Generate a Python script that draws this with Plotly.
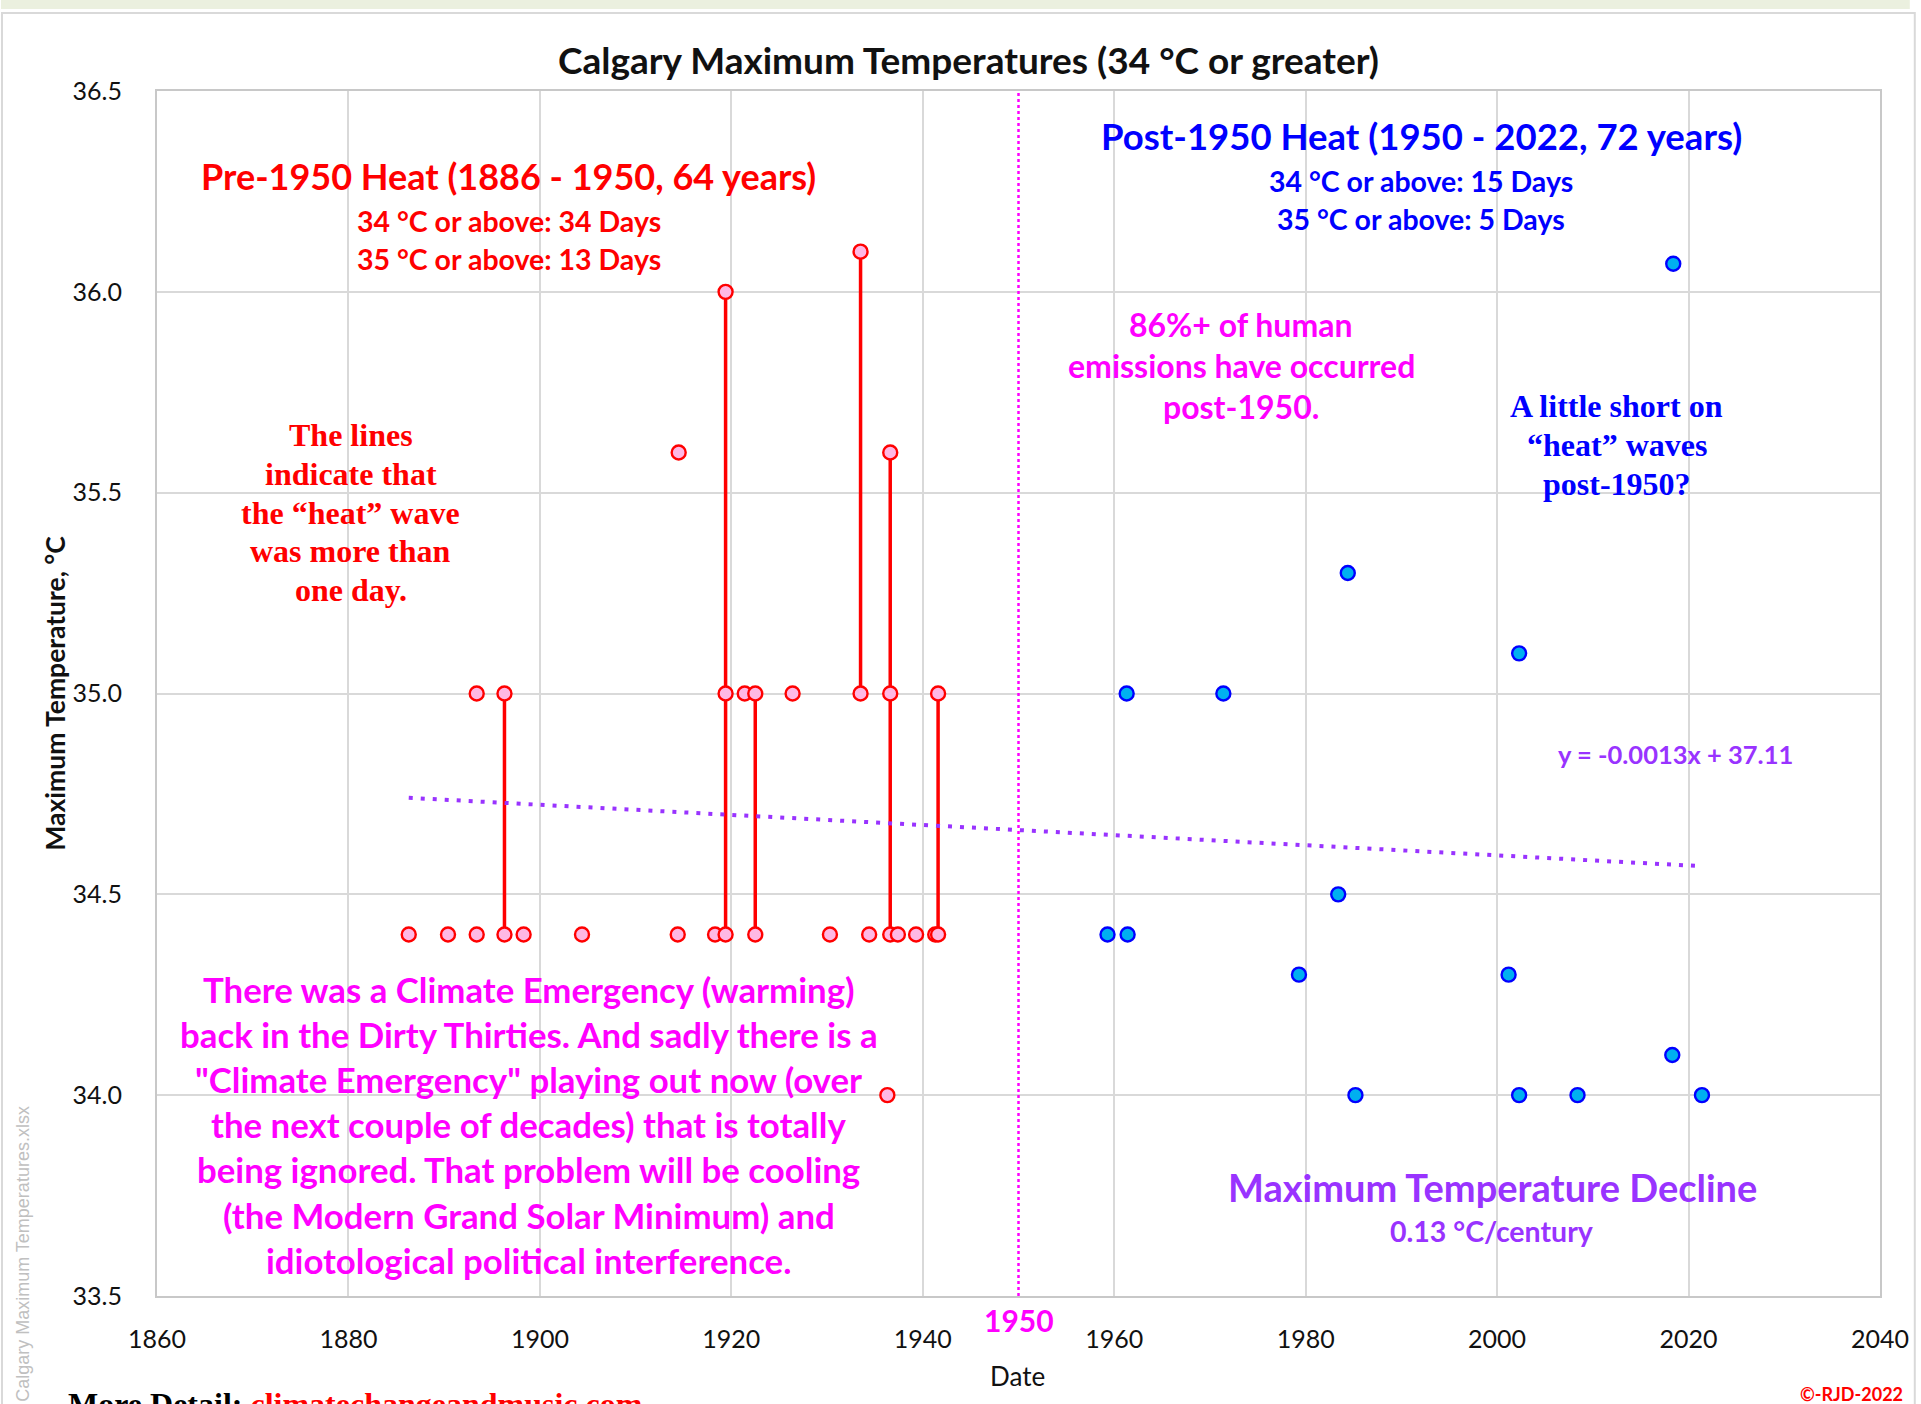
import plotly.graph_objects as go

# ---------------- data ----------------
pre_year = [1886.3, 1890.4, 1893.4, 1896.3, 1898.3, 1904.4, 1914.4, 1918.3, 1919.4, 1922.5,
            1930.3, 1934.4, 1936.6, 1937.4, 1939.3, 1941.3, 1941.6,
            1893.4, 1896.3, 1919.4, 1921.4, 1922.5, 1926.4, 1933.5, 1936.6, 1941.6,
            1914.5, 1936.6, 1919.4, 1933.5, 1936.3]
pre_temp = [34.4] * 17 + [35.0] * 9 + [35.6, 35.6, 36.0, 36.1, 34.0]

wave_year = [1896.3, 1919.4, 1922.5, 1933.5, 1936.6, 1941.6]
wave_low = [34.4, 34.4, 34.4, 35.0, 34.4, 34.4]
wave_high = [35.0, 36.0, 35.0, 36.1, 35.6, 35.0]

post_year = [1959.3, 1961.4, 1961.3, 1971.4, 1979.3, 1983.4, 1984.4, 1985.2,
             2001.2, 2002.3, 2002.3, 2008.4, 2018.4, 2018.3, 2021.4]
post_temp = [34.4, 34.4, 35.0, 35.0, 34.3, 34.5, 35.3, 34.0,
             34.3, 35.1, 34.0, 34.0, 36.07, 34.1, 34.0]

trend_slope = -0.00126
trend_intercept = 37.117

x_ticks = [1860, 1880, 1900, 1920, 1940, 1960, 1980, 2000, 2020, 2040]
y_ticks = [33.5, 34.0, 34.5, 35.0, 35.5, 36.0, 36.5]
divider_year = 1950

# ---------------- layout helpers ----------------
W, H = 1921, 1404
L, R, T, B = 157, 30, 91, 108
PW, PH = W - L - R, H - T - B


def px(xf, yf):
    return (xf - L) / PW, (H - B - yf) / PH


SANS = "Lato"
SERIF = "Liberation Serif"
RED = "#FF0000"
BLUE = "#0000FF"
MAG = "#FF00FF"
PURP = "#9933FF"

fig = go.Figure()

# heat-wave connecting lines
lx, ly = [], []
for yr, lo, hi in zip(wave_year, wave_low, wave_high):
    lx += [yr, yr, None]
    ly += [lo, hi, None]
fig.add_trace(go.Scatter(x=lx, y=ly, mode="lines", line=dict(color=RED, width=3.5),
                         hoverinfo="skip", showlegend=False))

# trend line
t0, t1 = min(pre_year + post_year), max(pre_year + post_year)
fig.add_trace(go.Scatter(x=[t0, t1],
                         y=[trend_slope * t0 + trend_intercept, trend_slope * t1 + trend_intercept],
                         mode="lines", line=dict(color=PURP, width=4, dash="4px,8px"),
                         showlegend=False))

fig.add_trace(go.Scatter(x=pre_year, y=pre_temp, mode="markers",
                         marker=dict(size=14, color="#FFB8E4", line=dict(color=RED, width=2.4)),
                         showlegend=False))
fig.add_trace(go.Scatter(x=post_year, y=post_temp, mode="markers",
                         marker=dict(size=14, color="#00B0F0", line=dict(color=BLUE, width=2.4)),
                         showlegend=False))

annotations = []


def txt(text, xf, yf, size, color, family=SANS, bold=True, xanchor="center", yanchor="middle", angle=0):
    x, y = px(xf, yf)
    t = f"<b>{text}</b>" if bold else text
    annotations.append(dict(text=t, x=x, y=y, xref="paper", yref="paper", showarrow=False,
                            xanchor=xanchor, yanchor=yanchor, textangle=angle,
                            font=dict(family=family, size=size, color=color)))


txt("Calgary Maximum Temperatures (34 °C or greater)", 974, 59, 37, "#111111")
txt("Pre-1950 Heat (1886 - 1950, 64 years)", 511, 176, 36, RED)
txt("34 °C or above: 34 Days", 511, 221, 28.5, RED)
txt("35 °C or above: 13 Days", 511, 259, 28.5, RED)
txt("Post-1950 Heat (1950 - 2022, 72 years)", 1430, 136, 36.5, BLUE)
txt("34 °C or above: 15 Days", 1429, 181, 28.5, BLUE)
txt("35 °C or above: 5 Days", 1429, 219, 28.5, BLUE)
for i, s in enumerate(["86%+ of human", "emissions have occurred", "post-1950."]):
    txt(s, 1248, 324 + i * 41.5, 32, MAG)
for i, s in enumerate(["The lines", "indicate that", "the \u201cheat\u201d wave", "was more than", "one day."]):
    txt(s, 352, 435 + i * 38.8, 32, RED, family=SERIF)
for i, s in enumerate(["A little short on", "\u201cheat\u201d waves", "post-1950?"]):
    txt(s, 1626, 406 + i * 39, 32, BLUE, family=SERIF)
big = ["There was a Climate Emergency (warming)",
       "back in the Dirty Thirties. And sadly there is a",
       "\"Climate Emergency\" playing out now (over",
       "the next couple of decades) that is totally",
       "being ignored. That problem will be cooling",
       "(the Modern Grand Solar Minimum) and",
       "idiotological political interference."]
for i, s in enumerate(big):
    txt(s, 531, 989 + i * 45.2, 34.8, MAG)
txt("Maximum Temperature Decline", 1501, 1187, 38, PURP)
txt("0.13 °C/century", 1501, 1231, 28.5, PURP)
txt("y = -0.0013x + 37.11", 1685, 754, 25.5, PURP)
txt("1950", 1024, 1320, 30, MAG)
txt("Date", 1023, 1376, 26, "#111111", bold=False)
txt("Maximum Temperature, °C", 54, 693, 26.5, "#111111", angle=-90)
txt("More Detail: <span style='color:#FF0000'>climatechangeandmusic.com</span>", 65, 1384, 32,
    "#000000", family=SERIF, xanchor="left", yanchor="top")
txt("\u00a9-RJD-2022", 1916, 1394, 18, RED, xanchor="right")
txt("Calgary Maximum Temperatures.xlsx", 22, 1254, 18, "#C0C0C0", family="Liberation Sans",
    bold=False, angle=-90)

shapes = []
# top band and outer border
x0, y0 = px(0, 0)
x1, y1 = px(W, 9)
shapes.append(dict(type="rect", xref="paper", yref="paper", x0=x0, x1=x1, y0=y0, y1=y1,
                   fillcolor="#EBF0DF", line=dict(width=0), layer="below"))
x0, y0 = px(1, 13)
x1, y1 = px(W + 5, H + 10)
shapes.append(dict(type="rect", xref="paper", yref="paper", x0=x0, x1=x1, y0=y0, y1=y1,
                   fillcolor="rgba(0,0,0,0)", line=dict(color="#D9D9D9", width=2), layer="below"))
# 1950 divider
shapes.append(dict(type="line", xref="x", yref="paper", x0=divider_year, x1=divider_year, y0=0, y1=1,
                   line=dict(color=MAG, width=2.5, dash="dot")))

fig.update_layout(
    width=W, height=H, autosize=False,
    margin=dict(l=L, r=R, t=T, b=B),
    paper_bgcolor="white", plot_bgcolor="white",
    annotations=annotations, shapes=shapes,
    font=dict(family=SANS),
)
fig.update_xaxes(range=[x_ticks[0], x_ticks[-1]], tickvals=x_ticks, ticktext=[str(v) for v in x_ticks],
                 showgrid=True, gridcolor="#D9D9D9", gridwidth=1.5, zeroline=False,
                 showline=True, linecolor="#C8C8C8", linewidth=2, mirror=True,
                 ticks="", ticklabelstandoff=20,
                 tickfont=dict(family=SANS, size=25, color="#111111"))
fig.update_yaxes(range=[y_ticks[0], y_ticks[-1]], tickvals=y_ticks, ticktext=[f"{v:.1f}" for v in y_ticks],
                 showgrid=True, gridcolor="#D9D9D9", gridwidth=1.5, zeroline=False,
                 showline=True, linecolor="#C8C8C8", linewidth=2, mirror=True,
                 ticks="", ticklabelstandoff=28,
                 tickfont=dict(family=SANS, size=25, color="#111111"))

fig.write_html("out.html", config={"displayModeBar": False},
               post_script="document.body.style.margin='0';")
